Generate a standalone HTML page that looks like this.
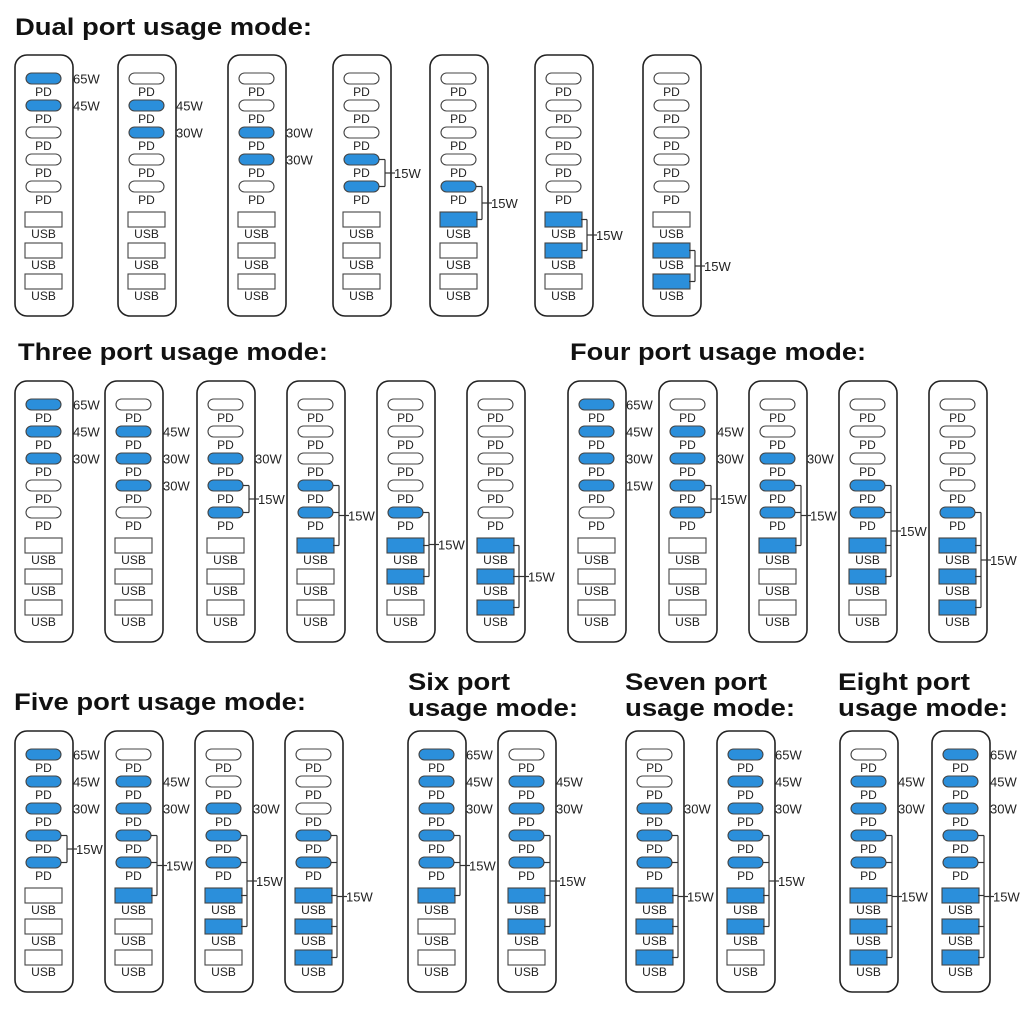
<!DOCTYPE html>
<html><head><meta charset="utf-8">
<style>
html,body{margin:0;padding:0;background:#fff;}
svg{display:block;}
text{font-family:"Liberation Sans",Arial,sans-serif;}
.t{font-weight:bold;font-size:24px;fill:#111;}
.pl{font-size:12px;fill:#222;}
.w{font-size:13px;fill:#222;}
</style></head>
<body>
<svg id="s" width="1024" height="1024" viewBox="0 0 1024 1024" xmlns="http://www.w3.org/2000/svg">
<text class="t" x="15" y="35" textLength="297" lengthAdjust="spacingAndGlyphs">Dual port usage mode:</text>
<text class="t" x="18" y="360" textLength="310" lengthAdjust="spacingAndGlyphs">Three port usage mode:</text>
<text class="t" x="570" y="360" textLength="296" lengthAdjust="spacingAndGlyphs">Four port usage mode:</text>
<text class="t" x="14" y="710" textLength="292" lengthAdjust="spacingAndGlyphs">Five port usage mode:</text>
<text class="t" x="408" y="690" textLength="102" lengthAdjust="spacingAndGlyphs">Six port</text>
<text class="t" x="408" y="716" textLength="170" lengthAdjust="spacingAndGlyphs">usage mode:</text>
<text class="t" x="625" y="690" textLength="142" lengthAdjust="spacingAndGlyphs">Seven port</text>
<text class="t" x="625" y="716" textLength="170" lengthAdjust="spacingAndGlyphs">usage mode:</text>
<text class="t" x="838" y="690" textLength="132" lengthAdjust="spacingAndGlyphs">Eight port</text>
<text class="t" x="838" y="716" textLength="170" lengthAdjust="spacingAndGlyphs">usage mode:</text>
<g id="g"></g>
</svg>
<script>
var S=[
// row1 top 55
[15,55,{0:"65W",1:"45W"},[]],
[118,55,{1:"45W",2:"30W"},[]],
[228,55,{2:"30W",3:"30W"},[]],
[333,55,{},[3,4]],
[430,55,{},[4,5]],
[535,55,{},[5,6]],
[643,55,{},[6,7]],
// row2
[15,381,{0:"65W",1:"45W",2:"30W"},[]],
[105,381,{1:"45W",2:"30W",3:"30W"},[]],
[197,381,{2:"30W"},[3,4]],
[287,381,{},[3,4,5]],
[377,381,{},[4,5,6]],
[467,381,{},[5,6,7]],
[568,381,{0:"65W",1:"45W",2:"30W",3:"15W"},[]],
[659,381,{1:"45W",2:"30W"},[3,4]],
[749,381,{2:"30W"},[3,4,5]],
[839,381,{},[3,4,5,6]],
[929,381,{},[4,5,6,7]],
// row3
[15,731,{0:"65W",1:"45W",2:"30W"},[3,4]],
[105,731,{1:"45W",2:"30W"},[3,4,5]],
[195,731,{2:"30W"},[3,4,5,6]],
[285,731,{},[3,4,5,6,7]],
[408,731,{0:"65W",1:"45W",2:"30W"},[3,4,5]],
[498,731,{1:"45W",2:"30W"},[3,4,5,6]],
[626,731,{2:"30W"},[3,4,5,6,7]],
[717,731,{0:"65W",1:"45W",2:"30W"},[3,4,5,6]],
[840,731,{1:"45W",2:"30W"},[3,4,5,6,7]],
[932,731,{0:"65W",1:"45W",2:"30W"},[3,4,5,6,7]]
];
var BL="#2b8fdb",h="";
function portY(i){return i<5?18+27*i:157+31*(i-5);}
function portMid(i){return i<5?portY(i)+5.5:portY(i)+7.5;}
S.forEach(function(s){
 var x=s[0],y=s[1],lab=s[2],br=s[3];
 h+='<rect x="'+x+'" y="'+y+'" width="58" height="261" rx="12" fill="#fff" stroke="#222" stroke-width="1.6"/>';
 var blue={};for(var k in lab)blue[k]=1;br.forEach(function(i){blue[i]=1;});
 for(var i=0;i<8;i++){
  var py=y+portY(i),f=blue[i]?BL:"#fff";
  if(i<5){
   h+='<rect x="'+(x+11)+'" y="'+py+'" width="35" height="11" rx="5.5" fill="'+f+'" stroke="#444" stroke-width="1.1"/>';
   h+='<text class="pl" x="'+(x+28.5)+'" y="'+(py+23)+'" text-anchor="middle">PD</text>';
  }else{
   h+='<rect x="'+(x+10)+'" y="'+py+'" width="37" height="15" fill="'+f+'" stroke="#444" stroke-width="1.1"/>';
   h+='<text class="pl" x="'+(x+28.5)+'" y="'+(py+26)+'" text-anchor="middle">USB</text>';
  }
 }
 for(var k in lab){
  h+='<text class="w" x="'+(x+58)+'" y="'+(y+portMid(+k)+5)+'">'+lab[k]+'</text>';
 }
 if(br.length){
  var lx=x+52,y1=y+portMid(br[0]),y2=y+portMid(br[br.length-1]),ym=(y1+y2)/2;
  h+='<path d="M'+lx+' '+y1+'V'+y2+'" stroke="#333" stroke-width="1.2" fill="none"/>';
  br.forEach(function(i){h+='<path d="M'+(x+46)+' '+(y+portMid(i))+'H'+lx+'" stroke="#333" stroke-width="1.2"/>';});
  h+='<path d="M'+lx+' '+ym+'H'+(x+62)+'" stroke="#333" stroke-width="1.2"/>';
  h+='<text class="w" x="'+(x+61)+'" y="'+(ym+5)+'">15W</text>';
 }
});
document.getElementById("g").innerHTML=h;
</script>
</body></html>
